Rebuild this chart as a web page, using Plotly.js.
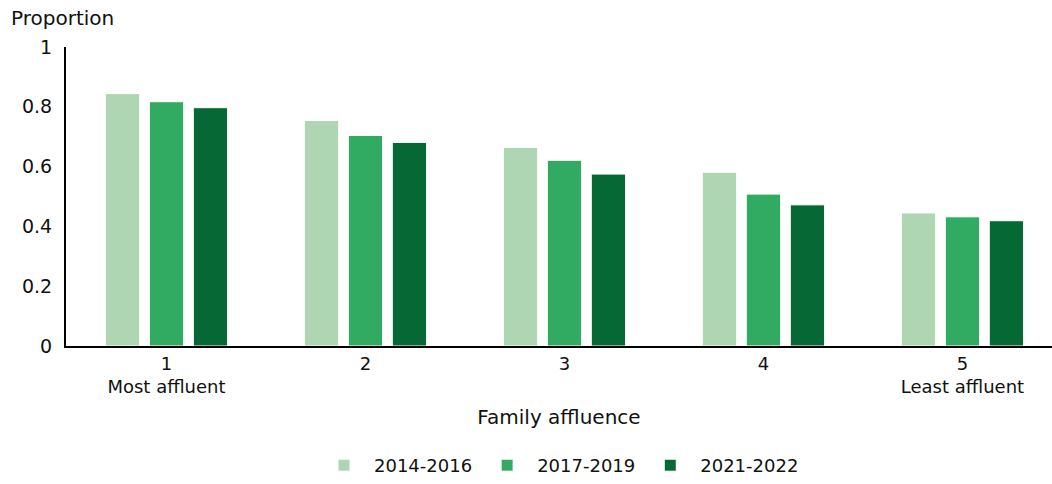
<!DOCTYPE html>
<html>
<head>
<meta charset="utf-8">
<script src="https://cdn.plot.ly/plotly-3.0.1.min.js"></script>
<style>body{margin:0;padding:0;background:#fff;} #chart{width:1052px;height:484px;}</style>
</head>
<body>
<div id="chart"></div>
<script>
var categories = ["1", "2", "3", "4", "5"];
var tickLabels = ["1<br>Most affluent", "2", "3", "4", "5<br>Least affluent"];
var seriesNames = ["2014-2016", "2017-2019", "2021-2022"];
var values2014_2016 = [0.844, 0.754, 0.664, 0.581, 0.445];
var values2017_2019 = [0.817, 0.704, 0.621, 0.508, 0.432];
var values2021_2022 = [0.797, 0.681, 0.575, 0.472, 0.419];
var colors = ["#aed6b2", "#31ab62", "#066834"];

var allValues = [values2014_2016, values2017_2019, values2021_2022];
var traces = allValues.map(function(v, i) {
  return {
    type: "bar",
    name: seriesNames[i],
    x: categories,
    y: v,
    marker: {color: colors[i], line: {color: "#ffffff", width: 1}},
    hoverinfo: "y+name"
  };
});

var fontFam = "'DejaVu Sans', sans-serif";
var layout = {
  width: 1052,
  height: 484,
  margin: {l: 66, r: 0, t: 47, b: 136},
  barmode: "group",
  bargap: 0.337,
  bargroupgap: 0.22,
  paper_bgcolor: "#ffffff",
  plot_bgcolor: "#ffffff",
  font: {family: fontFam, color: "#111111", size: 17},
  xaxis: {
    type: "category",
    range: [-0.505, 4.45],
    tickmode: "array",
    tickvals: categories,
    ticktext: tickLabels,
    showline: true,
    linecolor: "#000000",
    linewidth: 2,
    showgrid: false,
    ticks: "",
    tickfont: {size: 18, family: fontFam, color: "#111111"},
    title: {text: "Family affluence", font: {size: 20, family: fontFam, color: "#111111"}, standoff: 14}
  },
  yaxis: {
    range: [0, 1],
    tickvals: [0, 0.2, 0.4, 0.6, 0.8, 1],
    ticktext: ["0", "0.2", "0.4", "0.6", "0.8", "1"],
    showline: true,
    linecolor: "#000000",
    linewidth: 2,
    showgrid: false,
    zeroline: false,
    ticks: "",
    ticklabelstandoff: 8,
    tickfont: {size: 19, family: fontFam, color: "#111111"}
  },
  legend: {
    orientation: "h",
    x: 0.5,
    xanchor: "center",
    y: -0.4,
    yanchor: "middle",
    font: {size: 18, family: fontFam, color: "#111111"},
    itemwidth: 50,
    traceorder: "normal"
  },
  annotations: [{
    text: "Proportion",
    xref: "paper", yref: "paper",
    x: -0.058, y: 1.096,
    xanchor: "left", yanchor: "middle",
    showarrow: false,
    font: {size: 20, family: fontFam, color: "#111111"}
  }],
  showlegend: true
};

Plotly.newPlot("chart", traces, layout, {displayModeBar: false, responsive: false});
</script>
</body>
</html>
